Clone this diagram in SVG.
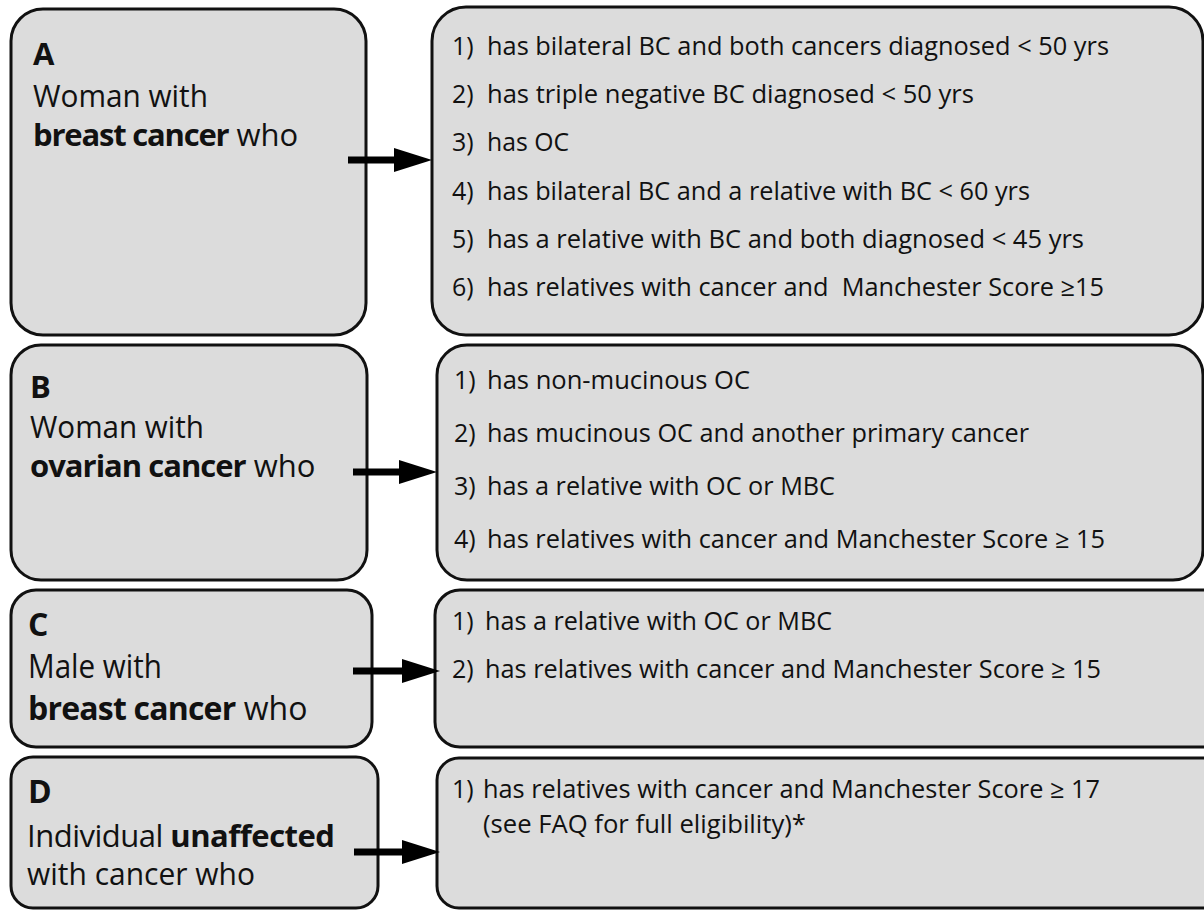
<svg xmlns="http://www.w3.org/2000/svg" width="1204" height="910" viewBox="0 0 1204 910">
<defs>
<style>
.box{fill:#dcdcdc;stroke:#111;stroke-width:3}
.lt{font-family:"Open Sans","Noto Sans",sans-serif;font-size:31px;fill:#111}
.lt2{font-family:"Open Sans","Noto Sans",sans-serif;font-size:32px;fill:#111}
.b{font-weight:bold}
.rt{font-family:"Liberation Sans Narrow","Open Sans","Liberation Sans",sans-serif;font-size:25px;fill:#111}
.conn{stroke:#000;stroke-width:7;fill:none}
</style>
<marker id="ah" markerUnits="userSpaceOnUse" markerWidth="40" markerHeight="26" refX="16" refY="12" orient="auto">
<path d="M0,0 L38,12 L0,24 Z" fill="#000"/>
</marker>
</defs>
<rect width="1204" height="910" fill="#fff"/>

<g id="nodeA">
<rect class="box" x="11" y="9" width="355" height="326" rx="32"/>
<text class="lt b" x="33" y="65">A</text>
<text class="lt" x="33" y="107" textLength="175" lengthAdjust="spacingAndGlyphs">Woman with</text>
<text class="lt" x="33" y="146"><tspan class="b" letter-spacing="-1.2">breast cancer</tspan> who</text>
</g>
<g id="nodeA-criteria">
<rect class="box" x="432" y="7" width="771" height="328" rx="34"/>
<text class="rt" x="452" y="55">1)</text><text class="rt" x="487" y="55" textLength="622" lengthAdjust="spacingAndGlyphs">has bilateral BC and both cancers diagnosed &lt; 50 yrs</text>
<text class="rt" x="452" y="103">2)</text><text class="rt" x="487" y="103" textLength="487" lengthAdjust="spacingAndGlyphs">has triple negative BC diagnosed &lt; 50 yrs</text>
<text class="rt" x="452" y="151">3)</text><text class="rt" x="487" y="151" textLength="82" lengthAdjust="spacingAndGlyphs">has OC</text>
<text class="rt" x="452" y="200">4)</text><text class="rt" x="487" y="200" textLength="543" lengthAdjust="spacingAndGlyphs">has bilateral BC and a relative with BC &lt; 60 yrs</text>
<text class="rt" x="452" y="248">5)</text><text class="rt" x="487" y="248" textLength="597" lengthAdjust="spacingAndGlyphs">has a relative with BC and both diagnosed &lt; 45 yrs</text>
<text class="rt" x="452" y="296">6)</text><text class="rt" x="487" y="296" xml:space="preserve" textLength="617" lengthAdjust="spacingAndGlyphs">has relatives with cancer and  Manchester Score ≥15</text>
</g>

<g id="nodeB">
<rect class="box" x="11" y="345" width="356" height="235" rx="30"/>
<text class="lt b" x="30" y="398">B</text>
<text class="lt" x="30" y="438" textLength="174" lengthAdjust="spacingAndGlyphs">Woman with</text>
<text class="lt" x="30" y="477"><tspan class="b" letter-spacing="-1">ovarian cancer</tspan> who</text>
</g>
<g id="nodeB-criteria">
<rect class="box" x="437" y="345" width="766" height="235" rx="30"/>
<text class="rt" x="454" y="389">1)</text><text class="rt" x="487" y="389" textLength="263" lengthAdjust="spacingAndGlyphs">has non-mucinous OC</text>
<text class="rt" x="454" y="442">2)</text><text class="rt" x="487" y="442" textLength="542" lengthAdjust="spacingAndGlyphs">has mucinous OC and another primary cancer</text>
<text class="rt" x="454" y="495">3)</text><text class="rt" x="487" y="495" textLength="348" lengthAdjust="spacingAndGlyphs">has a relative with OC or MBC</text>
<text class="rt" x="454" y="548">4)</text><text class="rt" x="487" y="548" textLength="618" lengthAdjust="spacingAndGlyphs">has relatives with cancer and Manchester Score ≥ 15</text>
</g>

<g id="nodeC">
<rect class="box" x="11" y="590" width="361" height="157" rx="25"/>
<text class="lt2 b" x="28" y="636">C</text>
<text class="lt2" x="28" y="678" textLength="134" lengthAdjust="spacingAndGlyphs">Male with</text>
<text class="lt2" x="28" y="720"><tspan class="b" letter-spacing="-0.8">breast cancer</tspan> who</text>
</g>
<g id="nodeC-criteria">
<rect class="box" x="435" y="590" width="800" height="157" rx="25"/>
<text class="rt" x="452" y="630">1)</text><text class="rt" x="485" y="630" textLength="347" lengthAdjust="spacingAndGlyphs">has a relative with OC or MBC</text>
<text class="rt" x="452" y="678">2)</text><text class="rt" x="485" y="678" textLength="616" lengthAdjust="spacingAndGlyphs">has relatives with cancer and Manchester Score ≥ 15</text>
</g>

<g id="nodeD">
<rect class="box" x="11" y="757" width="367" height="151" rx="22"/>
<text class="lt2 b" x="28" y="803">D</text>
<text class="lt" x="27" y="847" letter-spacing="-0.5">Individual <tspan class="b">unaffected</tspan></text>
<text class="lt" x="27" y="885" textLength="228" lengthAdjust="spacingAndGlyphs">with cancer who</text>
</g>
<g id="nodeD-criteria">
<rect class="box" x="437" y="758" width="800" height="150" rx="22"/>
<text class="rt" x="452" y="798">1)</text><text class="rt" x="483" y="798" textLength="617" lengthAdjust="spacingAndGlyphs">has relatives with cancer and Manchester Score ≥ 17</text>
<text class="rt" x="483" y="833" textLength="323" lengthAdjust="spacingAndGlyphs">(see FAQ for full eligibility)*</text>
</g>

<g id="connectors">
<line class="conn" x1="348" y1="160" x2="410" y2="160" marker-end="url(#ah)"/>
<line class="conn" x1="353" y1="472" x2="415" y2="472" marker-end="url(#ah)"/>
<line class="conn" x1="353" y1="671" x2="418" y2="671" marker-end="url(#ah)"/>
<line class="conn" x1="354" y1="852" x2="418" y2="852" marker-end="url(#ah)"/>
</g>
</svg>
